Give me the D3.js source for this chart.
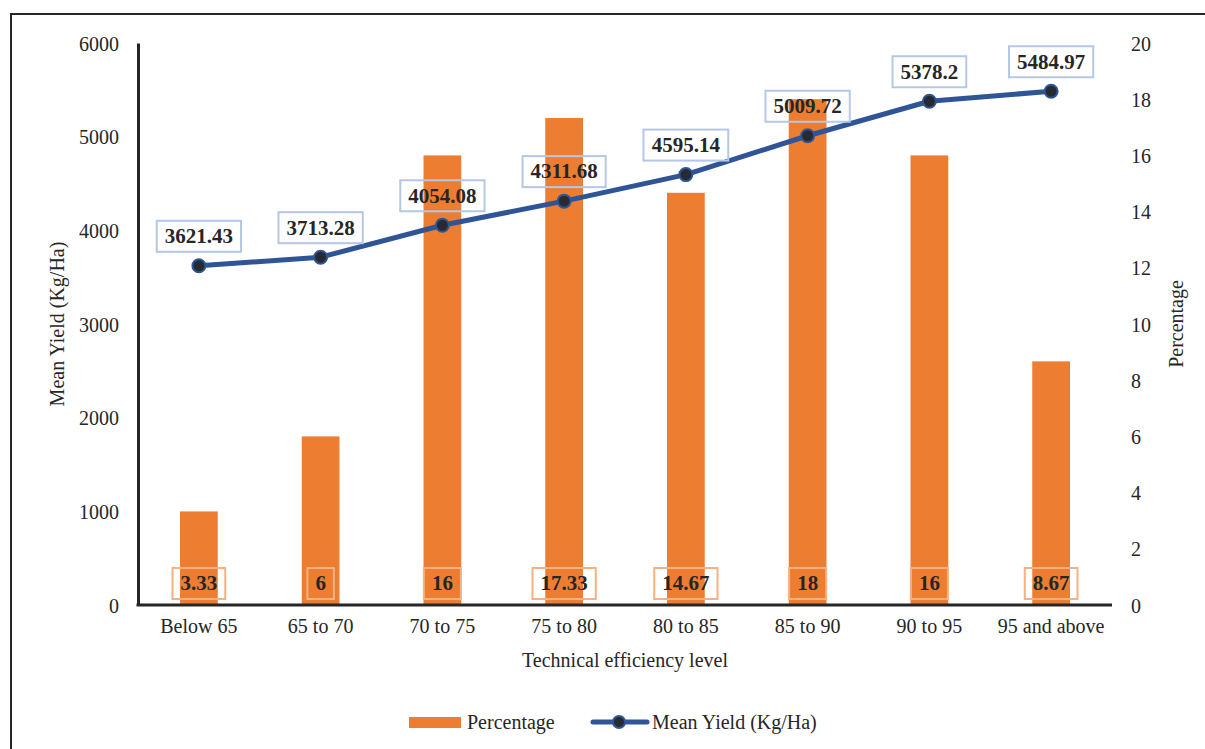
<!DOCTYPE html>
<html>
<head>
<meta charset="utf-8">
<script src="https://cdn.jsdelivr.net/npm/d3@7"></script>
<style>
  body { margin: 0; background: #fff; }
  svg text { font-family: "Liberation Serif", "Times New Roman", serif; fill: #262626; }
</style>
</head>
<body>
<script>
var categories = ["Below 65", "65 to 70", "70 to 75", "75 to 80", "80 to 85", "85 to 90", "90 to 95", "95 and above"];
var percentage = [3.33, 6, 16, 17.33, 14.67, 18, 16, 8.67];
var meanYield = [3621.43, 3713.28, 4054.08, 4311.68, 4595.14, 5009.72, 5378.2, 5484.97];
var leftTicks = [0, 1000, 2000, 3000, 4000, 5000, 6000];
var rightTicks = [0, 2, 4, 6, 8, 10, 12, 14, 16, 18, 20];

var config = {
    width: 1205,
    height: 749,
    left: 138,
    right: 1112,
    top: 43,
    bottom: 605,
    orange: "#ed7d31",
    blue: "#2f5597",
    ink: "#262626"
}

var svg = d3.select("body").append("svg")
    .attr("width", config.width)
    .attr("height", config.height)

// outer frame (runs off the right/bottom edges)
svg.append("rect")
    .attr("x", 11).attr("y", 14)
    .attr("width", 1300).attr("height", 800)
    .attr("fill", "none")
    .attr("stroke", config.ink)
    .attr("stroke-width", 2)

var x = d3.scaleBand()
    .domain(categories)
    .range([config.left, config.right])
    .paddingInner(0.69)
    .paddingOuter(0.345)

var xc = d3.scaleBand().domain(categories).range([config.left, config.right])

var yL = d3.scaleLinear().domain([0, 6000]).range([config.bottom, config.top])
var yR = d3.scaleLinear().domain([0, 20]).range([config.bottom, config.top])

// bars
svg.append("g").selectAll("rect")
    .data(categories)
    .enter()
    .append("rect")
    .attr("x", function(d) { return x(d); })
    .attr("width", x.bandwidth())
    .attr("y", function(d, i) { return yR(percentage[i]); })
    .attr("height", function(d, i) { return config.bottom - yR(percentage[i]); })
    .attr("fill", config.orange)

// axes
var leftAxis = svg.append("g")
    .attr("transform", "translate(" + config.left + ",0)")
    .call(d3.axisLeft(yL).tickValues(leftTicks).tickFormat(d3.format("d")).tickSize(0).tickPadding(19))
leftAxis.select(".domain").attr("stroke", config.ink).attr("stroke-width", 3)
leftAxis.selectAll("text").style("font-size", "20px").attr("dy", "0.35em")

var rightAxis = svg.append("g")
    .attr("transform", "translate(" + (config.right + 19) + ",0)")
    .call(d3.axisRight(yR).tickValues(rightTicks).tickFormat(d3.format("d")).tickSize(0).tickPadding(0))
rightAxis.select(".domain").remove()
rightAxis.selectAll("text").style("font-size", "20px").attr("dy", "0.35em")

var bottomAxis = svg.append("g")
    .attr("transform", "translate(0," + config.bottom + ")")
    .call(d3.axisBottom(xc).tickSize(0).tickPadding(14))
bottomAxis.select(".domain").attr("stroke", config.ink).attr("stroke-width", 3)
    .attr("d", "M" + (config.left - 1.5) + ",0H" + config.right)
bottomAxis.selectAll("text").style("font-size", "20px")

// axis titles
svg.append("text")
    .attr("x", (config.left + config.right) / 2)
    .attr("y", 667)
    .attr("text-anchor", "middle")
    .style("font-size", "20px")
    .text("Technical efficiency level")

svg.append("text")
    .attr("transform", "translate(64,324) rotate(-90)")
    .attr("text-anchor", "middle")
    .style("font-size", "20px")
    .text("Mean Yield (Kg/Ha)")

svg.append("text")
    .attr("transform", "translate(1183,324) rotate(-90)")
    .attr("text-anchor", "middle")
    .style("font-size", "20px")
    .text("Percentage")

// line
var cx = function(d, i) { return xc(categories[i]) + xc.bandwidth() / 2; }
var line = d3.line()
    .x(function(d, i) { return cx(d, i); })
    .y(function(d) { return yL(d); })

svg.append("path")
    .datum(meanYield)
    .attr("d", line)
    .attr("fill", "none")
    .attr("stroke", config.blue)
    .attr("stroke-width", 5)
    .attr("stroke-linejoin", "round")

svg.append("g").selectAll("circle")
    .data(meanYield)
    .enter()
    .append("circle")
    .attr("cx", cx)
    .attr("cy", function(d) { return yL(d); })
    .attr("r", 6.5)
    .attr("fill", "#262a33")
    .attr("stroke", config.blue)
    .attr("stroke-width", 2)

// label text inside an outlined box
function boxedLabel(g, text, px, py, stroke) {
    var bg = g.append("rect")
    var t = g.append("text")
        .attr("x", px).attr("y", py)
        .attr("text-anchor", "middle")
        .attr("dy", "0.35em")
        .style("font-size", "21px")
        .style("font-weight", "bold")
        .text(text)
    var bb = t.node().getBBox()
    bg.attr("x", px - bb.width / 2 - 8)
        .attr("y", py - 15)
        .attr("width", bb.width + 16)
        .attr("height", 31)
        .attr("fill", "none")
        .attr("stroke", stroke)
        .attr("stroke-width", 2)
}

var lineLabels = svg.append("g")
meanYield.forEach(function(v, i) {
    boxedLabel(lineLabels, String(v), cx(v, i), yL(v) - 30, "#b4c7e7")
})

var barLabels = svg.append("g")
percentage.forEach(function(v, i) {
    boxedLabel(barLabels, String(v), cx(v, i), 583, "#f4b183")
})

// legend
var legend = svg.append("g")
legend.append("rect")
    .attr("x", 409).attr("y", 717).attr("width", 52).attr("height", 11)
    .attr("fill", config.orange)
legend.append("text")
    .attr("x", 467).attr("y", 722).attr("dy", "0.35em")
    .style("font-size", "20px")
    .text("Percentage")
legend.append("line")
    .attr("x1", 593).attr("x2", 647).attr("y1", 722).attr("y2", 722)
    .attr("stroke", config.blue).attr("stroke-width", 5).attr("stroke-linecap", "round")
legend.append("circle")
    .attr("cx", 619).attr("cy", 722).attr("r", 6)
    .attr("fill", "#262a33").attr("stroke", config.blue).attr("stroke-width", 2)
legend.append("text")
    .attr("x", 652).attr("y", 722).attr("dy", "0.35em")
    .style("font-size", "20px")
    .text("Mean Yield (Kg/Ha)")
</script>
</body>
</html>
